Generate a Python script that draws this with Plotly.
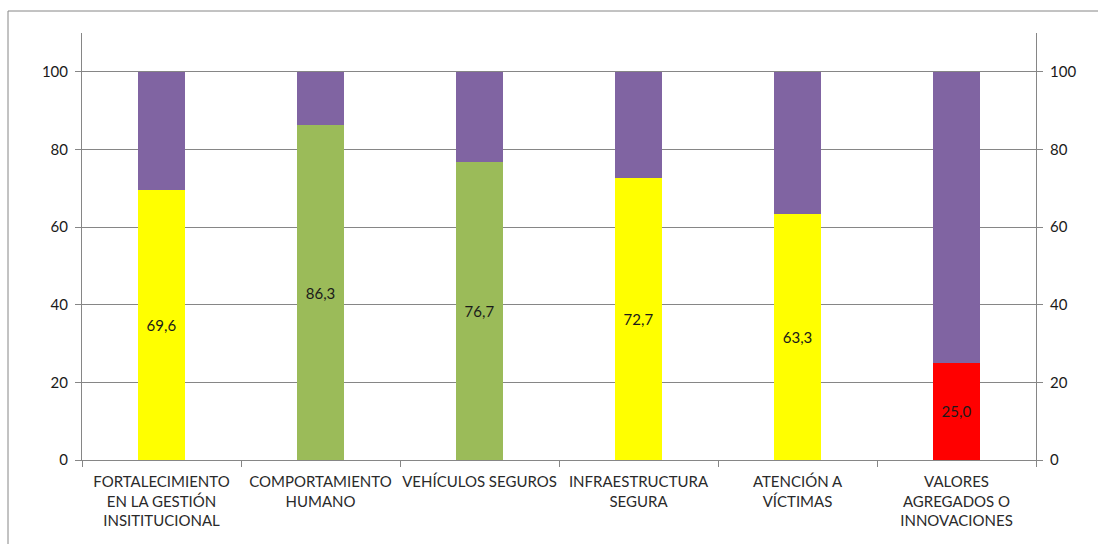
import plotly.graph_objects as go

categories = [
    "FORTALECIMIENTO<br>EN LA GESTIÓN<br>INSITITUCIONAL",
    "COMPORTAMIENTO<br>HUMANO",
    "VEHÍCULOS SEGUROS",
    "INFRAESTRUCTURA<br>SEGURA",
    "ATENCIÓN A<br>VÍCTIMAS",
    "VALORES<br>AGREGADOS O<br>INNOVACIONES",
]
scores = [69.6, 86.3, 76.7, 72.7, 63.3, 25.0]
score_labels = ["69,6", "86,3", "76,7", "72,7", "63,3", "25,0"]
score_colors = ["#FFFF00", "#9BBB59", "#9BBB59", "#FFFF00", "#FFFF00", "#FF0000"]
remainder = [100 - s for s in scores]
tick_values = [0, 20, 40, 60, 80, 100]

FONT = "Lato"

fig = go.Figure()
fig.add_trace(go.Bar(
    x=categories, y=scores, marker=dict(color=score_colors, line=dict(width=0)),
    text=score_labels, textposition="inside", insidetextanchor="middle",
    textfont=dict(family=FONT, size=15, color="#1a1a1a"), textangle=0,
    width=0.29, showlegend=False, hoverinfo="skip",
))
fig.add_trace(go.Bar(
    x=categories, y=remainder, marker=dict(color="#8064A2", line=dict(width=0)),
    width=0.29, showlegend=False, hoverinfo="skip",
))
fig.add_trace(go.Scatter(
    x=categories, y=scores, yaxis="y2", mode="markers",
    marker=dict(opacity=0), showlegend=False, hoverinfo="skip",
))

axis_common = dict(
    range=[0, 110], tickvals=tick_values, ticks="outside", ticklen=6,
    tickcolor="#868686", showline=True, linecolor="#868686", linewidth=1,
    tickfont=dict(family=FONT, size=15, color="#1a1a1a"), zeroline=False,
    automargin=False,
)

fig.update_layout(
    barmode="stack",
    width=1098, height=544,
    margin=dict(l=82, r=62, t=33, b=84),
    paper_bgcolor="white", plot_bgcolor="white",
    xaxis=dict(
        tickson="boundaries", ticks="outside", ticklen=6, tickcolor="#868686",
        showline=True, linecolor="#868686", showgrid=False,
        tickfont=dict(family=FONT, size=15, color="#2a2a2a"),
        tickangle=0, automargin=False, ticklabelstandoff=8,
    ),
    yaxis=dict(showgrid=True, gridcolor="#868686", gridwidth=1, side="left",
               ticklabelstandoff=4, **axis_common),
    yaxis2=dict(overlaying="y", side="right", showgrid=False,
                ticklabelstandoff=4, **axis_common),
    shapes=[dict(
        type="rect", xref="paper", yref="paper",
        x0=(8 - 82) / 954, x1=(1110 - 82) / 954,
        y0=-0.3, y1=(460 - 11) / 427,
        line=dict(color="#868686", width=1), fillcolor="rgba(0,0,0,0)", layer="below",
    )],
)

fig.write_html("out.html")
